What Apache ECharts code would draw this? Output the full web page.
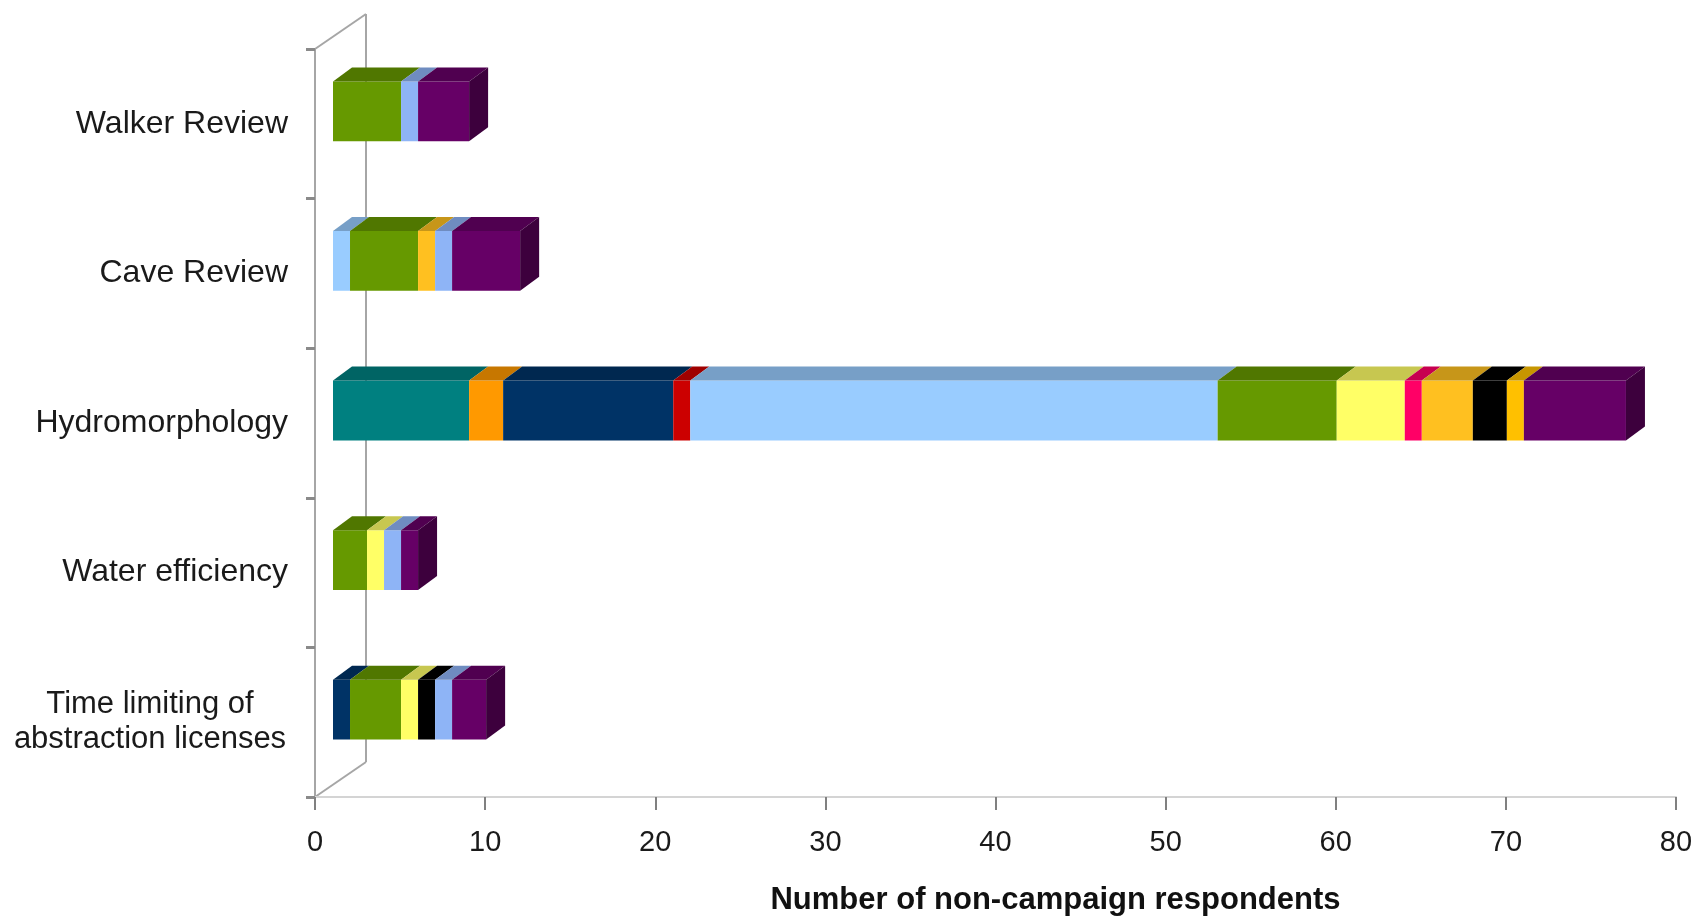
<!DOCTYPE html>
<html>
<head>
<meta charset="utf-8">
<script src="https://cdn.jsdelivr.net/npm/echarts@6/dist/echarts.min.js"></script>
<style>
html,body{margin:0;padding:0;background:#fff;}
#chart{width:1697px;height:918px;}
</style>
</head>
<body>
<div id="chart"></div>
<script>
// ---- data (category order: bottom -> top) ----
const categories = ["Time limiting of\nabstraction licenses", "Water efficiency", "Hydromorphology", "Cave Review", "Walker Review"];
const xTicks = [0, 10, 20, 30, 40, 50, 60, 70, 80];
const teal       = [0, 0, 8, 0, 0];
const orange     = [0, 0, 2, 0, 0];
const navy       = [1, 0, 10, 0, 0];
const red        = [0, 0, 1, 0, 0];
const lightBlue  = [0, 0, 31, 1, 0];
const green      = [3, 2, 7, 4, 4];
const yellow     = [1, 1, 4, 0, 0];
const pink       = [0, 0, 1, 0, 0];
const gold       = [0, 0, 3, 1, 0];
const black      = [1, 0, 2, 0, 0];
const gold2      = [0, 0, 1, 0, 0];
const periwinkle = [1, 1, 0, 1, 1];
const purple     = [2, 1, 6, 4, 3];
const axisTitle = "Number of non-campaign respondents";

const seriesDefs = [
  {name: "teal", values: teal, color: "#008080"},
  {name: "orange", values: orange, color: "#FF9900"},
  {name: "navy", values: navy, color: "#003366"},
  {name: "red", values: red, color: "#CC0000"},
  {name: "light blue", values: lightBlue, color: "#99CCFF"},
  {name: "green", values: green, color: "#669900"},
  {name: "yellow", values: yellow, color: "#FFFF66"},
  {name: "pink", values: pink, color: "#FF0066"},
  {name: "gold", values: gold, color: "#FFC020"},
  {name: "black", values: black, color: "#000000"},
  {name: "gold 2", values: gold2, color: "#FFC000"},
  {name: "periwinkle", values: periwinkle, color: "#8EB4F6"},
  {name: "purple", values: purple, color: "#660066"}
];

// ---- layout / style ----
const G_LEFT = 315, G_RIGHT_X = 1676, G_TOP = 49, G_BOTTOM_Y = 797;
const WALL_DX = 51, WALL_DY = -35;      // depth of the 3D wall
const BAR_OX = 18, BAR_OY = -12.5;      // front plane of bars relative to axis plane
const BAR_DX = 19, BAR_DY = -14;        // bar depth
const BAR_RATIO = 0.40;
const FONT = "'Liberation Sans', Arial, sans-serif";

function shade(hex, f) {
  const n = parseInt(hex.slice(1), 16);
  const r = Math.round(((n >> 16) & 255) * f), g = Math.round(((n >> 8) & 255) * f), b = Math.round((n & 255) * f);
  return "rgb(" + r + "," + g + "," + b + ")";
}

// stacked starts / ends and last-segment detection
const cum = categories.map(() => 0);
const lastIdx = categories.map((c, ci) => {
  let li = -1;
  seriesDefs.forEach((s, si) => { if (s.values[ci] > 0) li = si; });
  return li;
});

const series = seriesDefs.map((s, si) => {
  const data = [];
  s.values.forEach((v, ci) => {
    if (v > 0) {
      data.push([cum[ci], cum[ci] + v, ci, lastIdx[ci] === si ? 1 : 0]);
      cum[ci] += v;
    }
  });
  const front = s.color, top = shade(s.color, 0.78), side = shade(s.color, 0.6);
  return {
    type: "custom",
    name: s.name,
    coordinateSystem: "cartesian2d",
    encode: {x: [0, 1], y: 2},
    data: data,
    renderItem: function (params, api) {
      const st = api.value(0), en = api.value(1), cat = api.value(2), isLast = api.value(3);
      const p0 = api.coord([st, cat]);
      const p1 = api.coord([en, cat]);
      const h = api.size([0, 1])[1] * BAR_RATIO;
      const x0 = p0[0] + BAR_OX, x1 = p1[0] + BAR_OX;
      const yc = p0[1] + BAR_OY;
      const yt = yc - h / 2, yb = yc + h / 2;
      const children = [
        {type: "rect", shape: {x: x0, y: yt, width: x1 - x0, height: h}, style: {fill: front}},
        {type: "polygon", shape: {points: [[x0, yt], [x1, yt], [x1 + BAR_DX, yt + BAR_DY], [x0 + BAR_DX, yt + BAR_DY]]}, style: {fill: top}}
      ];
      if (isLast) {
        children.push({type: "polygon", shape: {points: [[x1, yt], [x1 + BAR_DX, yt + BAR_DY], [x1 + BAR_DX, yb + BAR_DY], [x1, yb]]}, style: {fill: side}});
      }
      return {type: "group", children: children};
    }
  };
});

const chart = echarts.init(document.getElementById("chart"), null, {renderer: "canvas"});
const wallColor = "#A6A6A6";
chart.setOption({
  animation: false,
  backgroundColor: "#ffffff",
  grid: {left: G_LEFT, right: 1697 - G_RIGHT_X, top: G_TOP, bottom: 918 - G_BOTTOM_Y, containLabel: false, outerBoundsMode: "none"},
  xAxis: {
    type: "value",
    min: xTicks[0], max: xTicks[xTicks.length - 1], interval: xTicks[1] - xTicks[0],
    splitLine: {show: false},
    axisLine: {show: true, lineStyle: {color: "#D4D4D4", width: 2}},
    axisTick: {show: true, length: 13, lineStyle: {color: "#808080", width: 2}},
    axisLabel: {margin: 31, fontSize: 29, color: "#1a1a1a", fontFamily: FONT},
    name: axisTitle,
    nameLocation: "middle",
    nameGap: 88,
    nameTextStyle: {fontSize: 31, fontWeight: "bold", color: "#111", fontFamily: FONT, padding: [0, 0, 0, 120]}
  },
  yAxis: {
    type: "category",
    data: categories,
    axisLine: {show: true, lineStyle: {color: wallColor, width: 2}},
    axisTick: {show: true, length: 9, lineStyle: {color: "#8a8a8a", width: 3}},
    axisLabel: {
      margin: 27, fontSize: 32, color: "#1a1a1a", fontFamily: FONT, lineHeight: 35,
      formatter: function (v) {
        if (v.indexOf("\n") >= 0) return v.split("\n").map(l => "{c|" + l + "}").join("\n");
        return v;
      },
      rich: {c: {width: 276, align: "center", fontSize: 31, lineHeight: 35, color: "#1a1a1a", fontFamily: FONT}}
    },
    splitLine: {show: false}
  },
  graphic: [
    {type: "line", z: -1, shape: {x1: G_LEFT, y1: G_TOP, x2: G_LEFT + WALL_DX, y2: G_TOP + WALL_DY}, style: {stroke: wallColor, lineWidth: 2}},
    {type: "line", z: -1, shape: {x1: G_LEFT + WALL_DX, y1: G_TOP + WALL_DY, x2: G_LEFT + WALL_DX, y2: G_BOTTOM_Y + WALL_DY}, style: {stroke: wallColor, lineWidth: 2}},
    {type: "line", z: -1, shape: {x1: G_LEFT + WALL_DX, y1: G_BOTTOM_Y + WALL_DY, x2: G_LEFT, y2: G_BOTTOM_Y}, style: {stroke: wallColor, lineWidth: 2}}
  ],
  series: series
});
</script>
</body>
</html>
